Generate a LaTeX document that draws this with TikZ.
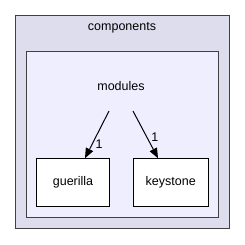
\documentclass[tikz,border=0pt]{standalone}
\usepackage{fontspec}
\setmainfont{Liberation Sans}
\usetikzlibrary{arrows.meta}
\definecolor{outerfill}{HTML}{DDDDEE}
\definecolor{innerfill}{HTML}{EEEEFF}
\definecolor{frame}{HTML}{404040}
\tikzset{
    dirbox/.style={draw=black, fill=white, line width=1pt, minimum height=47.6pt, inner sep=0pt},
    dep/.style={-{Triangle[length=10pt,width=8pt]}, line width=1pt},
    lbl/.style={font=\fontsize{12.5}{14}\selectfont, inner sep=0pt}
}
\begin{document}
\begin{tikzpicture}[x=1pt, y=-1pt]
    \useasboundingbox (0,0) rectangle (245,244);
    % Draw the clusters
    \draw[frame, fill=outerfill, line width=1pt] (15.5,15.5) rectangle (229,228);
    \node[lbl] (components) at (122,28) {components};
    \draw[frame, fill=innerfill, line width=1pt] (26.5,51.5) rectangle (218.5,217);
    \node[lbl] (modules) at (121,86) {modules};
    \coordinate (modL) at (109,111);
    \coordinate (modR) at (133,111);

    % Draw the sub directories
    \node[dirbox, minimum width=72.6pt, lbl] (guerilla) at (73,182.5) {guerilla};
    \node[dirbox, minimum width=74.7pt, lbl] (keystone) at (170.7,182.5) {keystone};

    % Draw the dependencies
    \draw[dep] (modL) -- (guerilla.north -| 85,0) node[lbl, pos=0.7, right=3pt] {1};
    \draw[dep] (modR) -- (keystone.north -| 158,0) node[lbl, pos=0.55, right=4pt] {1};
\end{tikzpicture}
\end{document}
